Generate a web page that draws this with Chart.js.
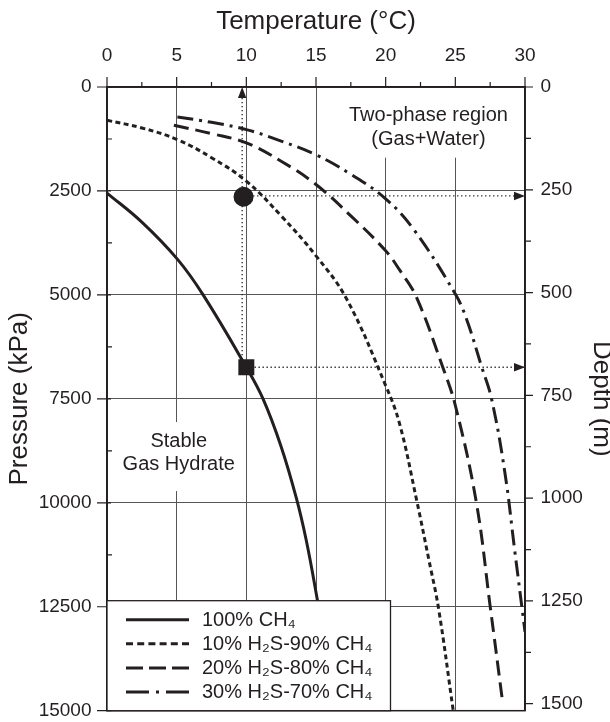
<!DOCTYPE html>
<html>
<head>
<meta charset="utf-8">
<script src="https://cdn.jsdelivr.net/npm/chart.js@4.4.1/dist/chart.umd.min.js"></script>
<style>
html,body{margin:0;padding:0;background:#fff;}
#wrap{width:610px;height:722px;position:relative;}
</style>
</head>
<body>
<div id="wrap"><canvas id="c" width="610" height="722"></canvas></div>
<script>
// ---------- DATA ----------
const tempTicks = [0, 5, 10, 15, 20, 25, 30];
const tempMinorTicks = [2.5, 7.5, 12.5, 17.5, 22.5, 27.5];
const pressureTicks = [0, 2500, 5000, 7500, 10000, 12500, 15000];
const pressureMinorTicks = [1250, 3750, 6250, 8750, 11250, 13750];
const depthTicks = [0, 125, 250, 375, 500, 625, 750, 875, 1000, 1125, 1250, 1375, 1500];
const depthLabelTicks = [0, 250, 500, 750, 1000, 1250, 1500];

const seriesNames = ['100% CH\u2084', '10% H\u2082S-90% CH\u2084', '20% H\u2082S-80% CH\u2084', '30% H\u2082S-70% CH\u2084'];

// 100% CH4 : temperature (°C) and pressure (kPa)
const ch4T = [0, 2.5, 5.05, 6.9, 10.0, 11.2, 12.5, 13.6, 14.3, 15.0, 16.5];
const ch4P = [2550, 3250, 4140, 5000, 6740, 7500, 8650, 9900, 10900, 12150, 15000];
// 10% H2S - 90% CH4
const h2s10T = [0, 2.5, 5.05, 7.5, 10.0, 12.5, 15.0, 17.2, 20.0, 21.0, 22.2, 23.1, 23.8, 24.85];
const h2s10P = [800, 985, 1265, 1700, 2265, 3100, 4060, 5100, 7180, 8100, 9900, 11370, 12550, 15000];
// 20% H2S - 80% CH4
const h2s20T = [4.8, 7.5, 10.0, 12.5, 15.0, 17.5, 20.0, 21.0, 22.2, 24.1, 25.0, 26.5, 27.5, 28.4];
const h2s20P = [920, 1120, 1345, 1785, 2345, 3100, 3940, 4400, 5050, 6740, 7660, 9975, 12490, 14810];
// 30% H2S - 70% CH4
const h2s30T = [5.05, 7.5, 10.0, 12.5, 15.0, 17.5, 20.0, 22.0, 25.0, 25.8, 26.9, 27.6, 28.55, 29.27, 30.0];
const h2s30P = [720, 850, 1025, 1300, 1630, 2100, 2690, 3420, 4980, 5580, 6740, 7500, 9260, 11170, 13100];

// markers and guide arrows
const circleT = [9.8];
const circleP = [2640];
const squareT = [10.0];
const squareP = [6740];
const guideUpT = [9.7, 9.7];
const guideUpP = [6740, 0];
const guideCircleT = [10.2, 30];
const guideCircleP = [2620, 2620];
const guideSquareT = [10.3, 30];
const guideSquareP = [6740, 6740];

const regionTwoPhase = ['Two-phase region', '(Gas+Water)'];
const regionStable = ['Stable', 'Gas Hydrate'];

// ---------- BUILD ----------
const INK = '#231f20';
const FONT = "'Liberation Sans', Arial, Helvetica, sans-serif";
const pts = (T, P) => T.map((t, i) => ({x: t, y: P[i]}));

const curveStyles = [
  {dash: [], legendDash: []},
  {dash: [5, 3.5], legendDash: [7, 4.2]},
  {dash: [15, 7], legendDash: [17, 6]},
  {dash: [16, 6, 3, 6], legendDash: [23, 7, 3, 7]}
];
const curveData = [pts(ch4T, ch4P), pts(h2s10T, h2s10P), pts(h2s20T, h2s20P), pts(h2s30T, h2s30P)];

const datasets = [];
datasets.push({label: 'circle', data: pts(circleT, circleP), showLine: false, pointStyle: 'circle',
  pointRadius: 10, pointBackgroundColor: INK, pointBorderColor: INK, pointBorderWidth: 0, order: 0});
datasets.push({label: 'square', data: pts(squareT, squareP), showLine: false, pointStyle: 'rect',
  pointRadius: 11.3, pointBackgroundColor: INK, pointBorderColor: INK, pointBorderWidth: 0, order: 0});
[[guideUpT, guideUpP], [guideCircleT, guideCircleP], [guideSquareT, guideSquareP]].forEach(([T, P]) => {
  datasets.push({label: 'guide', data: pts(T, P), borderColor: INK, borderWidth: 1.3, borderDash: [1.3, 2.7],
    pointRadius: 0, tension: 0, arrowHead: true, order: 1, clip: false});
});
curveData.forEach((d, i) => {
  datasets.push({label: seriesNames[i], data: d, borderColor: INK, borderWidth: 3,
    borderDash: curveStyles[i].dash, legendDash: curveStyles[i].legendDash, isCurve: true,
    pointRadius: 0, tension: 0.4, borderCapStyle: 'butt', order: 2});
});

const decorPlugin = {
  id: 'decor',
  beforeDatasetsDraw(chart) {
    const {ctx, chartArea: a, scales} = chart;
    const xs = scales.x, ys = scales.y, ds = scales.y2;
    ctx.save();
    ctx.font = '20px ' + FONT;
    ctx.textAlign = 'center';
    ctx.textBaseline = 'alphabetic';
    // Two-phase region
    let cx = xs.getPixelForValue(23.07);
    let b1 = ys.getPixelForValue(810);
    let w = Math.max(...regionTwoPhase.map(t => ctx.measureText(t).width));
    ctx.fillStyle = '#fff';
    ctx.fillRect(cx - w / 2 - 8, a.top + 1, w + 16, b1 + 24 + 13 - a.top - 1);
    ctx.fillStyle = INK;
    regionTwoPhase.forEach((t, i) => ctx.fillText(t, cx, b1 + i * 24));
    // Stable gas hydrate
    cx = xs.getPixelForValue(5.15);
    b1 = ys.getPixelForValue(8660);
    w = Math.max(...regionStable.map(t => ctx.measureText(t).width));
    ctx.fillStyle = '#fff';
    ctx.fillRect(cx - w / 2 - 6, b1 - 25, w + 12, 24 + 45);
    ctx.fillStyle = INK;
    regionStable.forEach((t, i) => ctx.fillText(t, cx, b1 + i * 23.4));

    // tick marks
    ctx.strokeStyle = INK;
    ctx.lineWidth = 1.2;
    ctx.beginPath();
    tempTicks.forEach(v => { const p = xs.getPixelForValue(v); ctx.moveTo(p, a.top); ctx.lineTo(p, a.top - 10); });
    tempMinorTicks.forEach(v => { const p = xs.getPixelForValue(v); ctx.moveTo(p, a.top); ctx.lineTo(p, a.top - 5); });
    pressureTicks.forEach(v => { const p = ys.getPixelForValue(v); ctx.moveTo(a.left - 10, p); ctx.lineTo(a.left + 4, p); });
    pressureMinorTicks.forEach(v => { const p = ys.getPixelForValue(v); ctx.moveTo(a.left, p); ctx.lineTo(a.left + 5, p); });
    depthTicks.forEach(v => { const p = ds.getPixelForValue(v); const L = depthLabelTicks.includes(v) ? 8 : 6; ctx.moveTo(a.right, p); ctx.lineTo(a.right + L, p); });
    ctx.stroke();
    // frame
    ctx.lineWidth = 1.5;
    ctx.strokeRect(a.left, a.top, a.right - a.left, a.bottom - a.top);
    ctx.restore();
  },
  afterDatasetsDraw(chart) {
    const {ctx, chartArea: a} = chart;
    ctx.save();
    // arrow heads
    ctx.fillStyle = INK;
    chart.data.datasets.forEach((ds, i) => {
      if (!ds.arrowHead) return;
      const el = chart.getDatasetMeta(i).data;
      const p1 = el[el.length - 2], p2 = el[el.length - 1];
      const ang = Math.atan2(p2.y - p1.y, p2.x - p1.x);
      const L = 11, H = 4.2;
      ctx.beginPath();
      ctx.moveTo(p2.x, p2.y);
      ctx.lineTo(p2.x - L * Math.cos(ang) - H * Math.sin(ang), p2.y - L * Math.sin(ang) + H * Math.cos(ang));
      ctx.lineTo(p2.x - L * Math.cos(ang) + H * Math.sin(ang), p2.y - L * Math.sin(ang) - H * Math.cos(ang));
      ctx.closePath();
      ctx.fill();
    });
    // legend box
    const bw = 283.5, bh = 110;
    const x0 = a.left, y0 = a.bottom - bh;
    ctx.fillStyle = '#fff';
    ctx.fillRect(x0, y0, bw, bh);
    ctx.strokeStyle = INK;
    ctx.lineWidth = 1.3;
    ctx.strokeRect(x0, y0, bw, bh);
    const curves = chart.data.datasets.filter(d => d.isCurve);
    ctx.font = '20px ' + FONT;
    ctx.textAlign = 'left';
    ctx.textBaseline = 'alphabetic';
    curves.forEach((d, i) => {
      const ly = y0 + 19 + i * 24.1;
      ctx.beginPath();
      ctx.setLineDash(d.legendDash);
      ctx.lineWidth = 3;
      ctx.moveTo(x0 + 19, ly);
      ctx.lineTo(x0 + 82, ly);
      ctx.stroke();
      ctx.setLineDash([]);
      ctx.fillStyle = INK;
      ctx.fillText(d.label, x0 + 95, ly + 6);
    });
    ctx.restore();
  }
};

Chart.defaults.font.family = FONT;
Chart.defaults.color = INK;

const plain = v => String(v);
const noVPad = s => { s.paddingTop = 0; s.paddingBottom = 0; };

new Chart(document.getElementById('c'), {
  type: 'line',
  data: {datasets},
  options: {
    responsive: false,
    animation: false,
    devicePixelRatio: 1,
    events: [],
    layout: {padding: {top: 0, left: 0, right: 0, bottom: 10}},
    plugins: {legend: {display: false}, tooltip: {enabled: false}},
    scales: {
      x: {
        type: 'linear', position: 'top', min: 0, max: 30,
        afterBuildTicks: s => { s.ticks = tempTicks.map(v => ({value: v})); },
        afterFit: s => { s.height = 87; s.paddingLeft = 0; s.paddingRight = 0; },
        ticks: {font: {size: 19}, padding: 20, color: INK, maxRotation: 0, callback: plain},
        grid: {color: '#555', lineWidth: 1, drawTicks: false},
        border: {color: INK, width: 1.5},
        title: {display: true, text: 'Temperature (\u00B0C)', font: {size: 26, lineHeight: 1}, padding: {top: 9, bottom: 0}, color: INK}
      },
      y: {
        type: 'linear', position: 'left', reverse: true, min: 0, max: 15000,
        afterBuildTicks: s => { s.ticks = pressureTicks.map(v => ({value: v})); },
        afterFit: s => { s.width = 107; noVPad(s); },
        ticks: {font: {size: 19}, padding: 15.5, color: INK, callback: plain},
        grid: {color: '#555', lineWidth: 1, drawTicks: false},
        border: {color: INK, width: 1.5},
        title: {display: true, text: 'Pressure (kPa)', font: {size: 26, lineHeight: 1}, padding: {top: 6.5, bottom: 0}, color: INK}
      },
      y2: {
        type: 'linear', position: 'right', reverse: true, min: 0, max: 1517,
        afterBuildTicks: s => { s.ticks = depthLabelTicks.map(v => ({value: v})); },
        afterFit: s => { s.width = 85; noVPad(s); },
        ticks: {font: {size: 19}, padding: 15.5, color: INK, callback: plain},
        grid: {drawOnChartArea: false, drawTicks: false},
        border: {color: INK, width: 1.5},
        title: {display: true, text: 'Depth (m)', font: {size: 26, lineHeight: 1}, padding: {top: -4, bottom: 0}, color: INK}
      }
    }
  },
  plugins: [decorPlugin]
});
</script>
</body>
</html>
